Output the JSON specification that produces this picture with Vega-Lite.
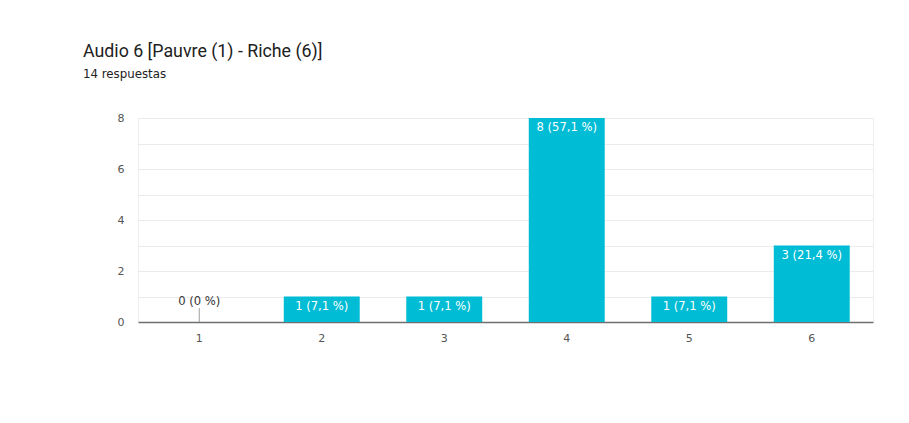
{
  "$schema": "https://vega.github.io/schema/vega-lite/v6.json",
  "autosize": {"type": "none"},
  "width": 735,
  "height": 204,
  "padding": {"left": 138, "top": 118, "right": 36, "bottom": 101},
  "background": "white",
  "title": {
    "text": "Audio 6 [Pauvre (1) - Riche (6)]",
    "subtitle": "14 respuestas",
    "anchor": "start",
    "frame": "group",
    "dx": -55,
    "offset": 31,
    "font": "Roboto",
    "fontSize": 17.8,
    "fontWeight": "normal",
    "color": "#212121",
    "subtitleFont": "DejaVu Sans",
    "subtitleFontSize": 11.8,
    "subtitleColor": "#212121",
    "subtitlePadding": 8
  },
  "data": {
    "values": [
      {"answer": "1", "count": 0, "label": "0 (0 %)"},
      {"answer": "2", "count": 1, "label": "1 (7,1 %)"},
      {"answer": "3", "count": 1, "label": "1 (7,1 %)"},
      {"answer": "4", "count": 8, "label": "8 (57,1 %)"},
      {"answer": "5", "count": 1, "label": "1 (7,1 %)"},
      {"answer": "6", "count": 3, "label": "3 (21,4 %)"}
    ]
  },
  "encoding": {
    "x": {
      "field": "answer",
      "type": "nominal",
      "sort": null,
      "scale": {"paddingInner": 0.38, "paddingOuter": 0.19},
      "axis": {
        "title": null,
        "labelAngle": 0,
        "ticks": false,
        "labelPadding": 10,
        "labelFont": "DejaVu Sans",
        "labelFontSize": 11,
        "labelColor": "#555555",
        "domainColor": "#6f6f6f",
        "domainWidth": 1.5,
        "grid": false
      }
    },
    "y": {
      "field": "count",
      "type": "quantitative",
      "scale": {"domain": [0, 8], "nice": false},
      "axis": {
        "title": null,
        "values": [0, 1, 2, 3, 4, 5, 6, 7, 8],
        "labelExpr": "datum.value % 2 == 0 ? datum.label : ''",
        "domain": false,
        "ticks": false,
        "labelPadding": 14,
        "labelFont": "DejaVu Sans",
        "labelFontSize": 11,
        "labelColor": "#555555",
        "gridColor": "#ebebeb",
        "gridWidth": 1
      }
    }
  },
  "layer": [
    {
      "mark": {"type": "bar", "color": "#00bcd4"}
    },
    {
      "transform": [{"filter": "datum.count == 0"}],
      "mark": {"type": "rule", "color": "#9e9e9e", "strokeWidth": 1},
      "encoding": {"y2": {"datum": 0.55}}
    },
    {
      "transform": [{"filter": "datum.count > 0"}],
      "mark": {"type": "text", "baseline": "middle", "dy": 10, "color": "white", "font": "DejaVu Sans", "fontSize": 11.6},
      "encoding": {"text": {"field": "label"}}
    },
    {
      "transform": [{"filter": "datum.count == 0"}],
      "mark": {"type": "text", "baseline": "middle", "dy": -20, "color": "#333333", "font": "DejaVu Sans", "fontSize": 11.6},
      "encoding": {"text": {"field": "label"}}
    }
  ],
  "config": {
    "view": {"stroke": "#eeeeee"}
  }
}
